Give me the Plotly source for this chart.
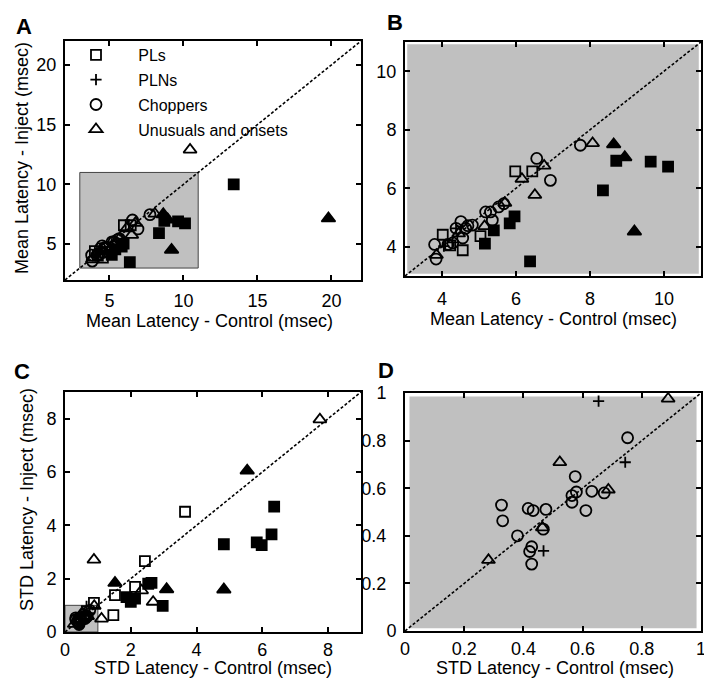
import plotly.graph_objects as go

# ---------------- data: mean latency (control x, inject y), msec ----------------
mean_pl_open_x = [5.98, 6.44, 5.04, 4.02, 4.56, 4.22]
mean_pl_open_y = [6.58, 6.58, 4.36, 4.41, 3.88, 4.05]
mean_pl_fill_x = [6.38, 8.35, 8.71, 9.64, 10.11, 5.16, 5.40, 5.83, 5.96, 13.4]
mean_pl_fill_y = [3.50, 5.93, 6.94, 6.91, 6.74, 4.11, 4.56, 4.80, 5.04, 10.0]
mean_pln_x = [4.38, 4.05, 4.28]
mean_pln_y = [4.63, 4.02, 4.15]
mean_ch_x = [7.74, 6.56, 6.93, 5.67, 5.53, 5.31, 5.18, 5.36, 4.82, 4.64, 4.51, 4.38,
             4.56, 3.80, 3.84, 4.16, 4.29, 4.70]
mean_ch_y = [7.47, 7.02, 6.27, 5.47, 5.36, 5.19, 5.19, 4.91, 4.74, 4.63, 4.86, 4.63,
             4.30, 4.08, 3.58, 4.08, 4.13, 4.72]
mean_un_open_x = [8.07, 6.76, 6.16, 6.51, 5.70, 5.15, 3.85, 4.45, 10.45]
mean_un_open_y = [7.54, 6.77, 6.32, 5.77, 5.50, 4.70, 3.72, 4.45, 12.9]
mean_un_fill_x = [8.64, 8.94, 9.20, 19.8]
mean_un_fill_y = [7.50, 7.06, 4.52, 7.15]

# ---------------- data: STD latency (control x, inject y), msec ----------------
std_pl_open_x = [3.65, 2.43, 2.13, 1.52, 1.47, 0.88]
std_pl_open_y = [4.51, 2.66, 1.69, 1.38, 0.63, 1.09]
std_pl_fill_x = [6.36, 6.28, 5.83, 5.98, 4.83, 2.53, 2.63, 1.87, 2.00, 2.13, 2.97]
std_pl_fill_y = [4.70, 3.66, 3.36, 3.26, 3.29, 1.81, 1.84, 1.31, 1.13, 1.25, 0.98]
std_pln_x = [0.654, 0.744, 0.468]
std_pln_y = [0.966, 0.709, 0.337]
std_ch_x = [0.752, 0.575, 0.579, 0.564, 0.564, 0.631, 0.611, 0.673, 0.326, 0.330,
            0.416, 0.433, 0.476, 0.380, 0.467, 0.428, 0.421, 0.428]
std_ch_y = [0.812, 0.649, 0.584, 0.569, 0.541, 0.587, 0.506, 0.580, 0.529, 0.463,
            0.515, 0.506, 0.511, 0.400, 0.428, 0.354, 0.334, 0.281]
std_un_open_x = [7.75, 0.88, 1.11, 2.33, 2.68, 0.889, 0.523, 0.687, 0.464, 0.282]
std_un_open_y = [7.97, 2.71, 0.50, 1.56, 1.13, 0.976, 0.709, 0.594, 0.435, 0.298]
std_un_fill_x = [5.54, 1.52, 3.09, 4.83]
std_un_fill_y = [6.05, 1.84, 1.60, 1.59]

legend_names = ["PLs", "PLNs", "Choppers", "Unusuals and onsets"]
xtitle_mean = "Mean Latency - Control (msec)"
ytitle_mean = "Mean Latency - Inject (msec)"
xtitle_std = "STD Latency - Control (msec)"
ytitle_std = "STD Latency - Inject (msec)"

# axis settings
rangeA = [2, 22]; ticksA = [5, 10, 15, 20]
rangeB = [3, 11]; ticksB = [4, 6, 8, 10]
rangeC = [0, 9]; ticksC = [0, 2, 4, 6, 8]
rangeD = [0, 1]; ticksD = [0, 0.2, 0.4, 0.6, 0.8, 1]
ticktextD = ["0", "0.2", "0.4", "0.6", "0.8", "1"]

W, H = 712, 688
OFF = 8  # page body margin of the html page
FONT = "Arial, Liberation Sans, sans-serif"
GRAY = "#c0c0c0"
LW = 1.8

fig = go.Figure()

def nb(s, n=5):
    return "\u00a0" * n + s

def add_panel(data, xa, ya, show):
    (plox, ploy, plfx, plfy, pnx, pny, chx, chy, uox, uoy, ufx, ufy) = data
    specs = [
        (plox, ploy, "square-open", 10, legend_names[0], "g1", show),
        (plfx, plfy, "square", 10, legend_names[0], "g1", False),
        (pnx, pny, "cross-thin-open", 8, legend_names[1], "g2", show),
        (chx, chy, "circle-open", 11, legend_names[2], "g3", show),
        (uox, uoy, "triangle-up-open", 11.5, legend_names[3], "g4", show),
        (ufx, ufy, "triangle-up", 12, legend_names[3], "g4", False),
    ]
    for x, y, sym, sz, name, grp, sl in specs:
        fig.add_trace(go.Scatter(
            x=x, y=y, mode="markers", name=nb(name), legendgroup=grp,
            showlegend=sl, xaxis=xa, yaxis=ya,
            marker=dict(symbol=sym, size=sz, color="black",
                        line=dict(color="black", width=LW))))

mean_data = (mean_pl_open_x, mean_pl_open_y, mean_pl_fill_x, mean_pl_fill_y,
             mean_pln_x, mean_pln_y, mean_ch_x, mean_ch_y,
             mean_un_open_x, mean_un_open_y, mean_un_fill_x, mean_un_fill_y)
std_data = (std_pl_open_x, std_pl_open_y, std_pl_fill_x, std_pl_fill_y,
            std_pln_x, std_pln_y, std_ch_x, std_ch_y,
            std_un_open_x, std_un_open_y, std_un_fill_x, std_un_fill_y)

# diagonal reference lines (y = x across each axis range)
for xa, ya, rg in [("x", "y", rangeA), ("x2", "y2", rangeB), ("x3", "y3", rangeC), ("x4", "y4", rangeD)]:
    fig.add_trace(go.Scatter(x=rg, y=rg, mode="lines", xaxis=xa, yaxis=ya, showlegend=False,
                             line=dict(color="black", width=1.6, dash="3px,2px")))

add_panel(mean_data, "x", "y", True)
add_panel(mean_data, "x2", "y2", False)
add_panel(std_data, "x3", "y3", False)
add_panel(std_data, "x4", "y4", False)

def fx(px):
    return (px - OFF) / W

def fy(py):
    return 1 - (py - OFF) / H

def px_dom_x(a, b):
    return [fx(a), fx(b)]

def px_dom_y(top, bottom):
    return [fy(bottom), fy(top)]

def axis(rng, ticks, dom, anchor, ticktext=None, standoff=3):
    d = dict(range=rng, tickvals=ticks, domain=dom, anchor=anchor, automargin=False,
             showgrid=False, zeroline=False, showline=True, linecolor="black",
             linewidth=2, mirror="ticks", ticks="inside", ticklen=5, tickwidth=1.5,
             tickcolor="black", tickfont=dict(size=18, color="black", family=FONT),
             ticklabelstandoff=standoff)
    if ticktext is not None:
        d["ticktext"] = ticktext
    return d

xA = px_dom_x(65, 361); yA = px_dom_y(41, 280)
xB = px_dom_x(405, 701); yB = px_dom_y(42, 276)
xC = px_dom_x(65, 361); yC = px_dom_y(392, 632)
xD = px_dom_x(405, 701); yD = px_dom_y(393, 631)

ytickD = [ticktextD[0]] + [t + "\u00a0\u00a0" for t in ticktextD[1:]]

def lab(text, x, y, size=18, angle=0, bold=False):
    return dict(text=("<b>%s</b>" % text) if bold else text, x=fx(x), y=fy(y),
                xref="paper", yref="paper", xanchor="center", yanchor="middle",
                showarrow=False, textangle=angle,
                font=dict(size=size, family=FONT, color="black"))

fig.update_layout(
    width=W, height=H, margin=dict(l=0, r=0, t=0, b=0, autoexpand=False),
    paper_bgcolor="white", plot_bgcolor="white",
    font=dict(family=FONT, color="black"),
    xaxis=axis(rangeA, ticksA, xA, "y", standoff=3),
    yaxis=axis(rangeA, ticksA, yA, "x", standoff=3),
    xaxis2=axis(rangeB, ticksB, xB, "y2", standoff=5),
    yaxis2=axis(rangeB, ticksB, yB, "x2", standoff=3),
    xaxis3=axis(rangeC, ticksC, xC, "y3", standoff=0),
    yaxis3=axis(rangeC, ticksC, yC, "x3", standoff=3),
    xaxis4=axis(rangeD, ticksD, xD, "y4", ticktextD, standoff=0),
    yaxis4=axis(rangeD, ticksD, yD, "x4", ticktext=ytickD, standoff=3),
    showlegend=True,
    legend=dict(x=fx(76), y=fy(38), xanchor="left", yanchor="top",
                bgcolor="rgba(0,0,0,0)", borderwidth=0, traceorder="grouped",
                tracegroupgap=1, font=dict(size=16, family=FONT, color="black")),
    shapes=[
        dict(type="rect", xref="x", yref="y", x0=3, x1=11, y0=3, y1=11,
             fillcolor=GRAY, line=dict(color="#444444", width=1), layer="below"),
        dict(type="rect", xref="x2", yref="y2", x0=3.06, x1=10.94, y0=3.08, y1=10.92,
             fillcolor=GRAY, line=dict(width=0), layer="below"),
        dict(type="rect", xref="x3", yref="y3", x0=0, x1=1, y0=0, y1=1,
             fillcolor=GRAY, line=dict(color="#444444", width=1), layer="below"),
        dict(type="rect", xref="x4", yref="y4", x0=0.015, x1=0.985, y0=0.012, y1=0.985,
             fillcolor=GRAY, line=dict(width=0), layer="below"),
    ],
    annotations=[
        lab("A", 24, 26, 22, bold=True),
        lab("B", 395, 22, 22, bold=True),
        lab("C", 22, 371, 22, bold=True),
        lab("D", 386, 370, 22, bold=True),
        lab(xtitle_mean, 209, 321),
        lab(xtitle_mean, 553, 319),
        lab(xtitle_std, 213, 668),
        lab(xtitle_std, 555, 668),
        lab(ytitle_mean, 22, 158, angle=-90),
        lab(ytitle_std, 27, 500, angle=-90),
    ],
)

fig.write_html("out.html")
